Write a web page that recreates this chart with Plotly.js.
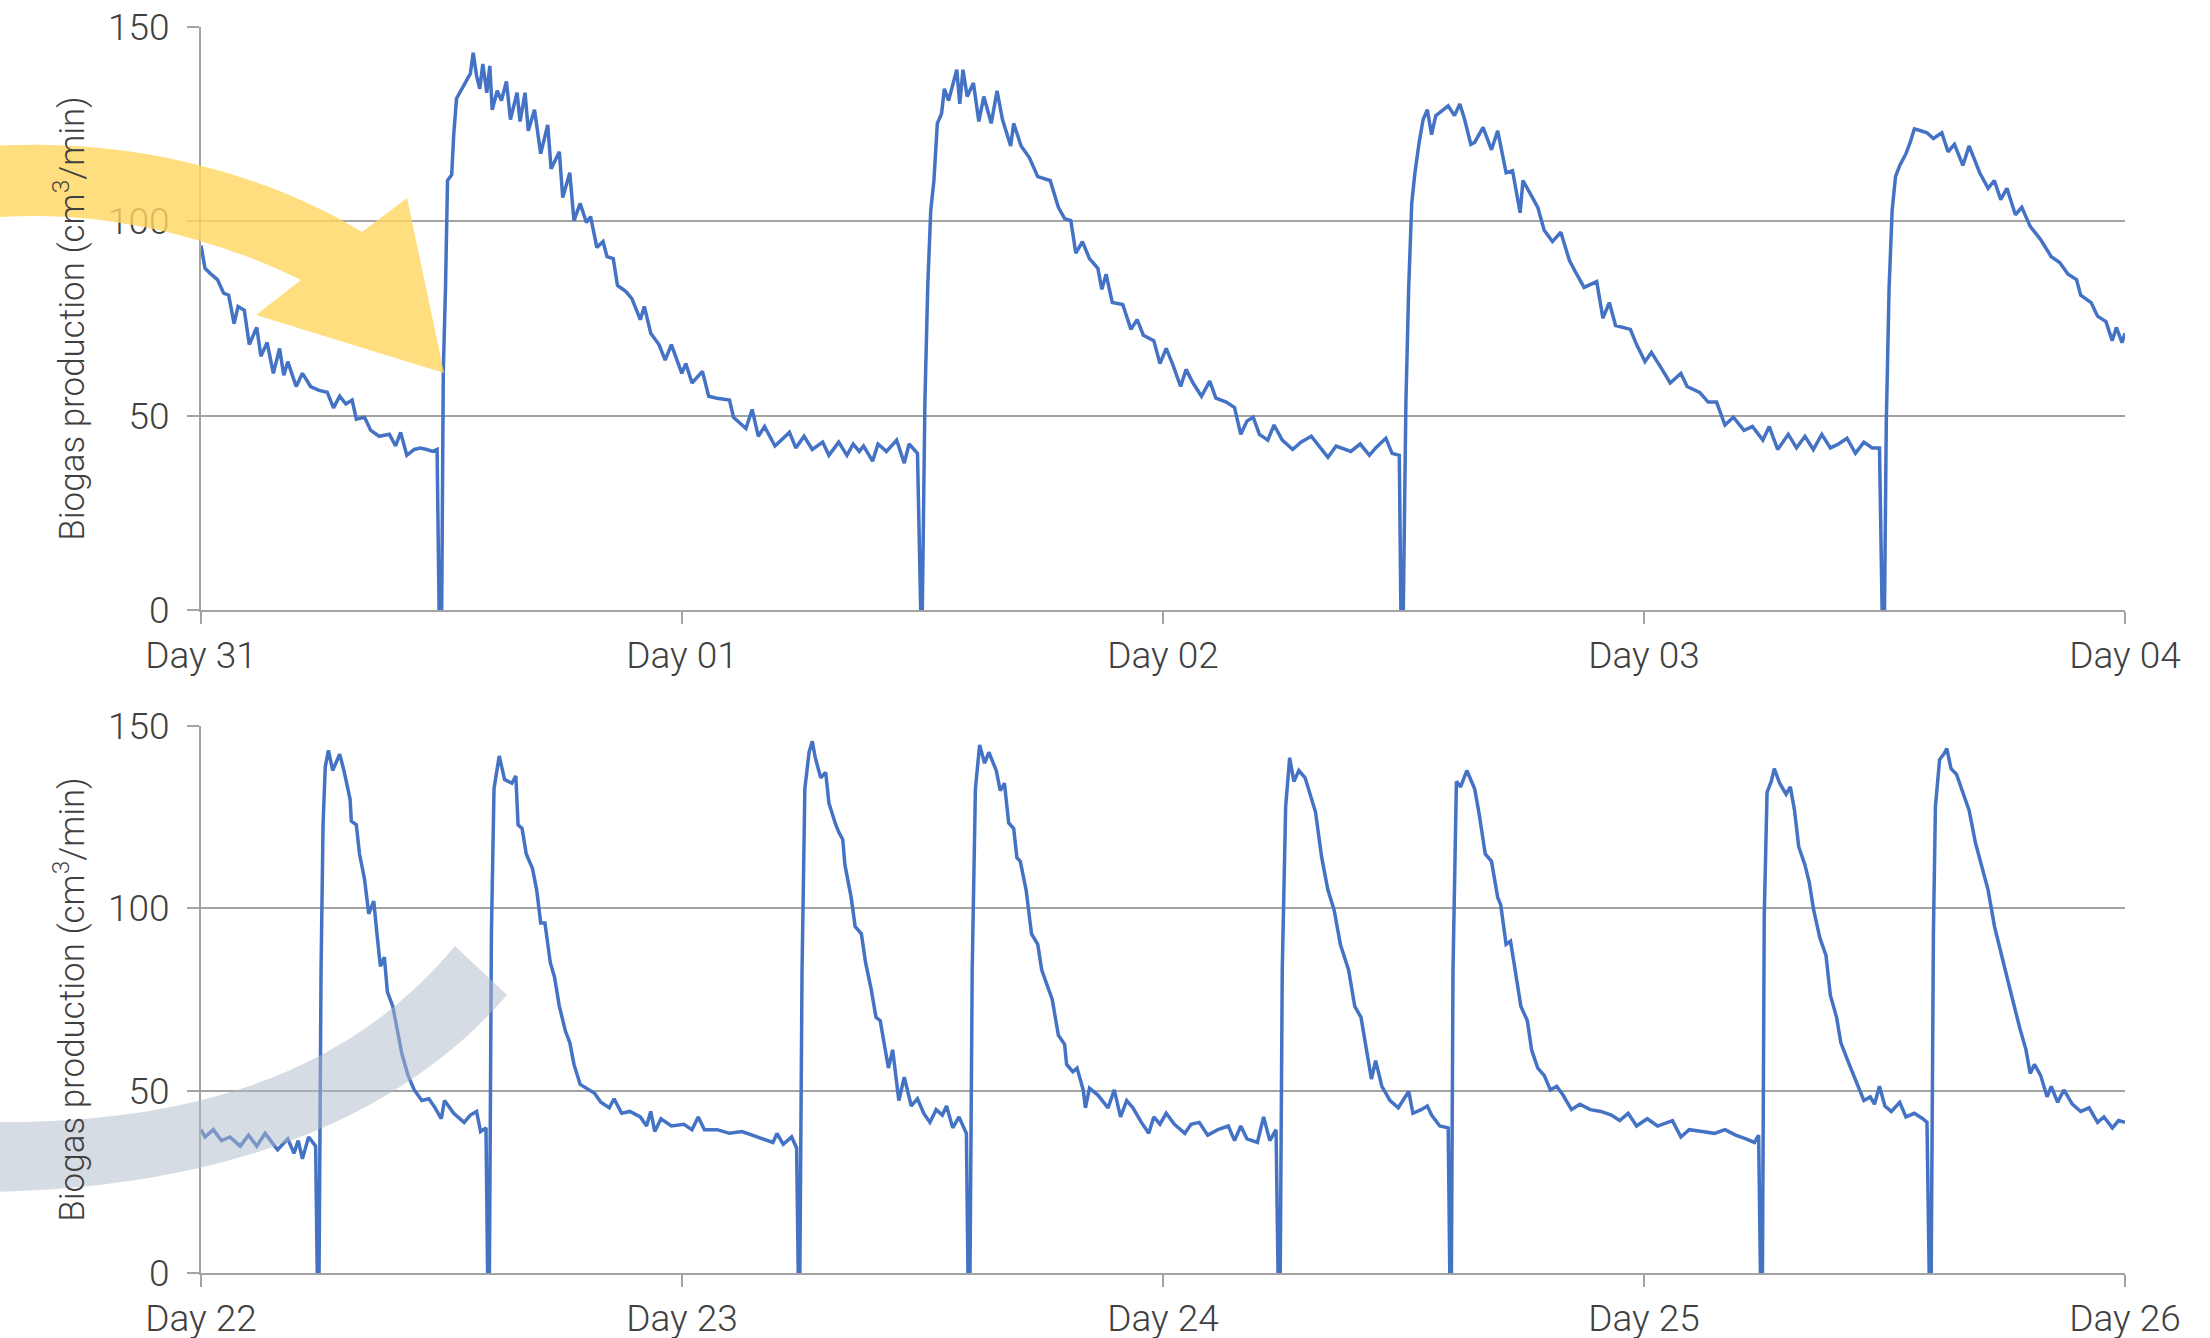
<!DOCTYPE html>
<html><head><meta charset="utf-8">
<script src="https://cdn.plot.ly/plotly-3.0.1.min.js"></script>
<style>html,body{margin:0;padding:0;background:#fff;overflow:hidden}#chart{width:2210px;height:1338px}</style>
</head><body><div id="chart"></div>
<script>
// ---- data (hours since the first tick, biogas production in cm3/min) ----
const tickHours = [0, 24, 48, 72, 96];
const topTickText = ["Day 31", "Day 01", "Day 02", "Day 03", "Day 04"];
const bottomTickText = ["Day 22", "Day 23", "Day 24", "Day 25", "Day 26"];
const yTicks = [0, 50, 100, 150];
const yTitle = "Biogas production (cm<sup>3</sup>/min)";

const topReadings = [
  [0,93.8],[0.2,87.9],[0.5,86.4],[0.82,85],[1.13,81.5],[1.38,81],[1.65,73.7],[1.85,78.1],[2.16,77.1],[2.41,68.3],
  [2.78,72.7],[2.99,65.3],[3.3,68.8],[3.61,60.9],[3.92,67.3],[4.13,60.4],[4.33,63.9],[4.75,57.5],[5.06,60.9],[5.47,57.5],
  [5.89,56.5],[6.3,56],[6.61,52],[6.92,55],[7.23,53],[7.54,54],[7.75,49.1],[8.16,49.6],[8.47,46.2],[8.89,44.7],
  [9.4,45.2],[9.71,42.2],[9.96,45.7],[10.27,39.8],[10.64,41.3],[10.95,41.7],[11.26,41.3],[11.57,40.8],[11.78,41.3],
  [11.88,0],[12.01,0],[12.09,61.4],[12.2,83],[12.3,110.5],[12.51,112],[12.61,122.3],[12.75,131.6],[13.02,134.1],[13.23,136.5],
  [13.44,138],[13.58,143.4],[13.75,137.5],[13.91,134.1],[14.06,140.5],[14.26,133.1],[14.41,140],[14.53,128.7],[14.78,133.6],[14.99,131.1],
  [15.24,136],[15.44,126.2],[15.77,133.1],[15.92,125.7],[16.17,133.1],[16.33,123.3],[16.64,128.7],[16.95,117.4],[17.3,124.8],[17.47,113.5],
  [17.88,117.9],[18.05,106.1],[18.4,112.5],[18.61,100.2],[18.92,104.6],[19.23,99.7],[19.44,101.2],[19.75,93.3],[20.06,94.8],[20.26,90.9],
  [20.57,90.4],[20.78,83.5],[21.19,82],[21.5,80.1],[21.92,74.7],[22.12,78.1],[22.44,71.2],[22.85,68.3],[23.16,64.3],[23.47,68.3],
  [23.99,60.9],[24.19,63.4],[24.5,58.4],[25.02,61.4],[25.33,55],[25.75,54.5],[26.37,54],[26.57,49.6],[27.19,46.7],[27.5,51.6],
  [27.81,44.7],[28.12,47.2],[28.64,42.2],[29.36,45.7],[29.68,41.7],[30.09,44.7],[30.5,41.3],[31.02,43.2],[31.33,39.8],
  [31.82,43.2],[32.23,39.8],[32.54,42.7],[32.85,40.8],[33.06,42.2],[33.51,38.3],[33.78,42.7],[34.2,40.8],[34.71,43.7],[35.09,37.8],
  [35.33,42.7],[35.75,40.3],[35.91,0],[35.99,0],[36.12,53.5],[36.26,83],[36.41,102.7],[36.57,110.5],[36.74,125.2],[36.95,127.7],
  [37.09,134.1],[37.3,131.1],[37.51,135.1],[37.71,139],[37.86,130.2],[38.02,139],[38.23,132.1],[38.54,135.6],[38.81,125.7],[39.06,132.1],
  [39.43,125.2],[39.72,133.6],[39.99,126.2],[40.4,119.4],[40.55,125.2],[40.92,119.4],[41.33,116.4],[41.75,111.5],[42.37,110.5],[42.78,103.6],
  [43.09,100.7],[43.4,100.2],[43.65,91.8],[43.98,94.8],[44.33,90.4],[44.75,87.9],[44.95,82.5],[45.16,86.4],[45.47,79.1],[45.99,78.6],
  [46.4,72.2],[46.71,74.7],[47.02,70.7],[47.54,69.3],[47.85,63.4],[48.16,67.3],[48.47,63.4],[48.88,57.5],[49.15,61.9],[49.5,58.4],
  [49.92,55],[50.33,58.9],[50.64,54.5],[51.16,53.5],[51.57,52.1],[51.88,45.2],[52.19,48.6],[52.5,49.6],[52.81,45.2],[53.23,43.7],
  [53.54,47.6],[53.95,43.7],[54.47,41.3],[54.88,43.2],[55.4,44.7],[55.81,42.2],[56.23,39.3],[56.64,42.2],[57.37,40.8],[57.84,42.7],
  [58.3,39.8],[58.61,41.7],[59.12,44.2],[59.43,40.3],[59.79,39.8],[59.87,0],[59.99,0],[60.12,53.5],[60.26,83],[60.41,104.6],
  [60.57,112.5],[60.78,120.3],[60.98,126.2],[61.19,128.7],[61.4,122.3],[61.61,127.2],[62.02,128.7],[62.23,129.7],[62.54,127.2],[62.81,130.2],
  [63.05,126.2],[63.36,119.8],[63.55,120.3],[63.97,124.2],[64.39,118.4],[64.7,123.3],[65.12,112.5],[65.44,113],[65.82,102.2],[65.96,110.5],
  [66.38,106.6],[66.7,103.6],[67.02,97.7],[67.43,94.8],[67.85,97.2],[68.28,89.9],[68.59,86.9],[69.01,83],[69.64,84.5],[69.95,75.1],
  [70.27,79.1],[70.58,73.2],[71.32,72.2],[71.63,68.3],[72.05,63.9],[72.37,66.3],[72.9,61.9],[73.31,58.4],[73.84,60.9],[74.15,57.5],
  [74.78,56],[75.2,53.5],[75.62,53.5],[76.04,47.6],[76.46,49.6],[76.99,46.2],[77.41,47.2],[77.93,43.7],[78.25,47.2],[78.67,41.3],
  [79.2,45.2],[79.61,41.7],[80.03,44.7],[80.45,41.3],[80.87,45.2],[81.3,41.7],[81.71,42.7],[82.13,44.2],[82.55,40.3],[82.97,43.2],
  [83.39,41.7],[83.75,41.7],[83.88,0],[84.0,0],[84.09,48.6],[84.23,83],[84.38,102.7],[84.55,111.5],[84.76,114.4],[85.07,117.4],
  [85.28,120.3],[85.49,123.8],[85.81,123.3],[86.12,122.8],[86.44,121.3],[86.86,122.8],[87.17,117.9],[87.49,119.8],[87.91,114.4],[88.22,119.4],
  [88.75,112.5],[89.17,108.5],[89.48,110.5],[89.8,105.6],[90.11,108.5],[90.53,101.7],[90.85,103.6],[91.27,98.7],[91.79,95.3],[92.32,90.9],
  [92.74,89.4],[93.16,86.4],[93.58,85],[93.79,81],[94.31,79.1],[94.63,75.6],[95.05,74.2],[95.36,69.3],[95.57,72.7],[95.85,68.8],[96,71.2]
];

const bottomReadings = [
  [0,39.3],[0.2,37.3],[0.61,39.3],[1.02,36.3],[1.44,37.3],[1.96,34.8],[2.37,37.8],[2.78,34.8],[3.2,38.3],[3.82,33.8],
  [4.33,36.8],[4.64,32.8],[4.85,36.3],[5.06,31.3],[5.37,37.3],[5.72,34.8],[5.8,0],[5.89,0],[5.99,83.1],[6.09,122.9],
  [6.2,138.8],[6.36,143.3],[6.57,137.8],[6.71,139.8],[6.92,142.3],[7.13,137.8],[7.44,129.9],[7.5,123.9],[7.75,122.9],[7.91,114.9],
  [8.16,108],[8.37,98.5],[8.62,102],[8.78,93],[8.95,84.1],[9.15,86.6],[9.3,77.1],[9.57,73.1],[9.82,65.2],[10.02,60.2],
  [10.33,54.2],[10.64,50.2],[11.02,47.3],[11.37,47.8],[11.68,45.3],[11.99,42.3],[12.15,47.3],[12.61,43.8],[13.13,41.3],[13.44,43.3],
  [13.75,44.3],[13.95,38.8],[14.22,39.8],[14.3,0],[14.39,0],[14.49,93],[14.62,132.8],[14.88,141.8],[15.15,135.3],[15.51,134.3],
  [15.71,136.3],[15.82,122.9],[16.02,121.9],[16.23,114.9],[16.54,110.9],[16.75,105],[16.95,96],[17.16,96],[17.43,85.1],[17.64,81.1],
  [17.88,73.1],[18.19,66.2],[18.4,63.2],[18.61,57.2],[18.92,51.7],[19.33,50.2],[19.64,49.3],[19.95,46.8],[20.37,45.3],[20.61,47.8],
  [20.99,43.8],[21.4,44.3],[21.92,42.8],[22.23,40.3],[22.44,44.3],[22.64,38.8],[22.95,42.3],[23.47,40.3],[24.09,40.8],[24.5,39.3],
  [24.81,42.8],[25.12,39.3],[25.75,39.3],[26.37,38.3],[26.99,38.8],[27.5,37.8],[28.02,36.8],[28.54,35.8],[28.74,38.3],[29.05,35.3],
  [29.47,37.3],[29.72,34.3],[29.8,0],[29.88,0],[29.99,83.1],[30.13,132.8],[30.34,142.8],[30.5,145.8],[30.65,141.3],[30.92,135.8],
  [31.17,137.3],[31.33,128.9],[31.64,123.4],[31.82,120.9],[32.02,118.9],[32.13,111.9],[32.44,103],[32.64,95],[32.95,93],[33.16,85.1],
  [33.43,78.1],[33.68,70.1],[33.89,69.2],[34.09,62.2],[34.3,56.2],[34.51,61.2],[34.82,47.3],[35.09,53.7],[35.44,45.8],[35.75,47.8],
  [36.06,43.8],[36.37,41.3],[36.68,44.8],[36.99,43.3],[37.2,45.8],[37.51,39.8],[37.82,42.8],[38.19,38.3],[38.27,0],[38.37,0],
  [38.48,83.1],[38.64,132.8],[38.85,144.8],[39.1,139.8],[39.31,142.8],[39.68,137.8],[39.88,132.3],[40.09,134.3],[40.3,123.4],[40.55,121.9],
  [40.71,113.9],[40.88,112.9],[41.17,105],[41.44,93],[41.75,90.1],[41.95,83.1],[42.26,78.1],[42.47,75.1],[42.78,65.2],[43.09,62.7],
  [43.19,57.2],[43.5,55.2],[43.71,56.2],[44.02,50.2],[44.13,45.3],[44.33,50.7],[44.75,48.8],[45.26,45.3],[45.57,50.2],[45.88,42.8],
  [46.19,47.3],[46.5,45.3],[46.92,41.3],[47.29,38.3],[47.54,42.8],[47.85,40.8],[48.16,43.8],[48.57,40.8],[49.09,38.3],[49.4,40.8],
  [49.81,41.3],[50.23,37.8],[50.74,39.3],[51.26,40.3],[51.57,36.3],[51.88,40.3],[52.19,36.8],[52.71,35.8],[53.02,42.8],[53.33,36.3],
  [53.64,39.3],[53.74,0],[53.85,0],[53.95,83.1],[54.12,127.9],[54.32,141.3],[54.53,134.8],[54.78,137.8],[55.09,135.8],[55.4,129.9],
  [55.61,126.4],[55.92,113.9],[56.23,105],[56.54,99.5],[56.85,90.1],[57.26,83.1],[57.57,73.1],[57.88,70.1],[58.19,60.2],[58.4,53.2],
  [58.61,58.2],[58.92,51.2],[59.33,47.3],[59.74,45.3],[60.26,49.8],[60.47,43.8],[60.88,44.8],[61.19,45.8],[61.4,43.3],[61.81,40.3],
  [62.23,39.8],[62.31,0],[62.39,0],[62.47,83.1],[62.64,134.8],[62.85,133.3],[63.16,137.8],[63.55,132.8],[63.76,126.4],[64.08,114.9],
  [64.39,112.9],[64.7,103],[64.85,101],[65.12,90.1],[65.34,91],[65.55,83.1],[65.86,73.1],[66.18,69.2],[66.39,61.2],[66.7,56.2],
  [67.02,54.2],[67.33,50.2],[67.64,51.2],[67.96,48.8],[68.38,44.8],[68.8,46.3],[69.32,44.8],[69.85,44.3],[70.37,43.3],[70.79,41.8],
  [71.21,43.8],[71.63,40.3],[72.16,42.3],[72.68,40.3],[73.42,41.8],[73.84,37.3],[74.26,39.3],[74.89,38.8],[75.52,38.3],[76.04,39.3],
  [76.57,37.8],[77.09,36.8],[77.51,35.8],[77.72,37.8],[77.81,0],[77.91,0],[78.0,98],[78.14,131.8],[78.35,134.8],[78.5,138.3],
  [78.77,134.3],[79.09,131.3],[79.3,133.3],[79.51,126.9],[79.72,116.9],[80.03,111.9],[80.25,107],[80.45,100],[80.77,92],[81.08,87.1],
  [81.3,76.1],[81.61,70.1],[81.82,63.2],[82.24,57.2],[82.66,51.2],[82.97,47.3],[83.29,48.3],[83.5,46.3],[83.75,51.2],[84.02,45.8],
  [84.34,44.3],[84.76,46.8],[85.07,42.8],[85.49,43.8],[85.91,42.3],[86.12,41.3],[86.23,0],[86.33,0],[86.44,93],[86.54,127.9],
  [86.75,140.8],[86.96,142.3],[87.11,143.8],[87.32,138.3],[87.59,136.8],[87.91,131.8],[88.22,126.9],[88.54,117.9],[88.85,111.9],[89.17,105],
  [89.49,95],[89.8,88.1],[90.12,80.1],[90.43,74.1],[90.75,67.2],[91.06,61.2],[91.27,54.7],[91.48,57.2],[91.79,54.2],[92.11,48.3],
  [92.32,51.2],[92.64,46.8],[92.95,50.2],[93.37,46.3],[93.79,44.3],[94.21,45.3],[94.63,41.3],[94.95,42.8],[95.37,39.8],[95.68,41.8],[96,41.3]
];

// ---- layout / styling ----
const W = 2210, H = 1338;
const M = {l: 201, r: 85, t: 27, b: 65};
const PW = W - M.l - M.r, PH = H - M.t - M.b;
const fx = x => ((x - M.l) / PW).toFixed(4);
const fy = y => ((H - M.b - y) / PH).toFixed(4);
// convert a pixel-space svg path into paper coordinates
function paperPath(segs) {
  return segs.map(s => s[0] + ' ' + s.slice(1).map(p => fx(p[0]) + ',' + fy(p[1])).join(' ')).join(' ') + ' Z';
}
const yellowArrow = paperPath([
  ['M', [-20, 147]], ['C', [120, 135], [260, 170], [362, 232]],
  ['L', [407, 198]], ['L', [444, 373]], ['L', [256, 315]], ['L', [301, 280]],
  ['C', [220, 240], [100, 205], [-20, 219]]
]);
const grayBand = paperPath([
  ['M', [-20, 1122]], ['C', [170, 1125], [340, 1085], [455, 946]],
  ['L', [507, 995]], ['C', [400, 1120], [220, 1190], [-20, 1192]]
]);

const FONT = 'Roboto, "Liberation Sans", Arial, sans-serif';
const TXT = '#404040';
const GRID = '#a3a3a3';

function xAxis(anchor, ticktext) {
  return {
    anchor: anchor, domain: [0, 1], range: [0, 96],
    tickmode: 'array', tickvals: tickHours, ticktext: ticktext,
    ticks: 'outside', ticklen: 12, tickwidth: 2, tickcolor: GRID,
    showline: true, linecolor: GRID, linewidth: 2,
    showgrid: false, zeroline: false,
    tickfont: {family: FONT, size: 37, color: TXT, weight: 300}
  };
}
function yAxis(anchor, domain) {
  return {
    anchor: anchor, domain: domain, range: [0, 150],
    tickmode: 'array', tickvals: yTicks,
    ticks: 'outside', ticklen: 12, tickwidth: 2, tickcolor: GRID,
    ticklabelstandoff: 10,
    showline: true, linecolor: GRID, linewidth: 2,
    showgrid: true, gridcolor: GRID, gridwidth: 2, zeroline: false,
    tickfont: {family: FONT, size: 37, color: TXT, weight: 300},
    title: {text: yTitle, standoff: 13, font: {family: FONT, size: 35, color: TXT, weight: 300}}
  };
}

const traces = [
  {x: topReadings.map(p => p[0]), y: topReadings.map(p => p[1]), xaxis: 'x', yaxis: 'y',
   type: 'scatter', mode: 'lines', line: {color: '#4472c4', width: 3.5}, showlegend: false, hoverinfo: 'skip'},
  {x: bottomReadings.map(p => p[0]), y: bottomReadings.map(p => p[1]), xaxis: 'x2', yaxis: 'y2',
   type: 'scatter', mode: 'lines', line: {color: '#4472c4', width: 3.5}, showlegend: false, hoverinfo: 'skip'}
];

const layout = {
  width: W, height: H, margin: M,
  paper_bgcolor: '#ffffff', plot_bgcolor: '#ffffff',
  font: {family: FONT, color: TXT},
  xaxis: xAxis('y', topTickText),
  yaxis: yAxis('x', [+fy(610), 1]),
  xaxis2: xAxis('y2', bottomTickText),
  yaxis2: yAxis('x2', [0, +fy(726)]),
  shapes: [
    {type: 'path', xref: 'paper', yref: 'paper', path: yellowArrow, layer: 'above',
     fillcolor: 'rgba(255,214,96,0.8)', line: {width: 0}},
    {type: 'path', xref: 'paper', yref: 'paper', path: grayBand, layer: 'above',
     fillcolor: 'rgba(173,185,202,0.5)', line: {width: 0}}
  ]
};

Plotly.newPlot('chart', traces, layout, {displayModeBar: false, staticPlot: true});
</script>
</body></html>
